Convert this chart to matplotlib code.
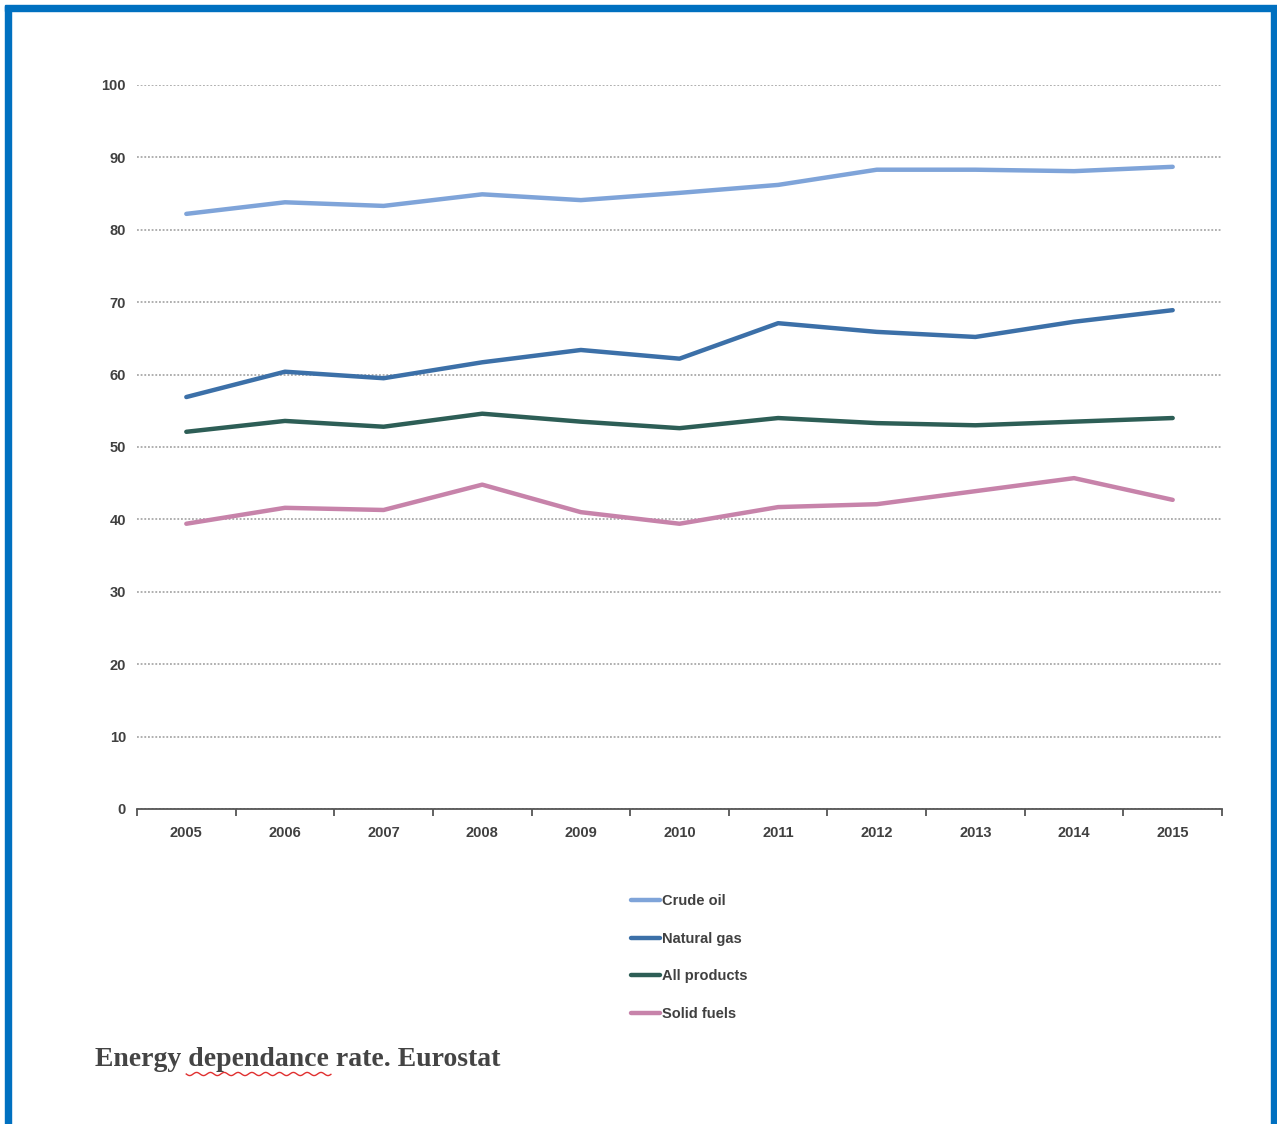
import matplotlib.pyplot as plt
import numpy as np
from matplotlib.patches import Rectangle

years = ['2005', '2006', '2007', '2008', '2009', '2010', '2011', '2012', '2013', '2014', '2015']
crude_oil = [82.2, 83.8, 83.3, 84.9, 84.1, 85.1, 86.2, 88.3, 88.3, 88.1, 88.7]
natural_gas = [56.9, 60.4, 59.5, 61.7, 63.4, 62.2, 67.1, 65.9, 65.2, 67.3, 68.9]
all_products = [52.1, 53.6, 52.8, 54.6, 53.5, 52.6, 54.0, 53.3, 53.0, 53.5, 54.0]
solid_fuels = [39.4, 41.6, 41.3, 44.8, 41.0, 39.4, 41.7, 42.1, 43.9, 45.7, 42.7]

series = [
    ('Crude oil', crude_oil, '#7fa4d9'),
    ('Natural gas', natural_gas, '#3c70a8'),
    ('All products', all_products, '#2d5e56'),
    ('Solid fuels', solid_fuels, '#c783aa'),
]

tick_font = ['Liberation Sans Narrow', 'Liberation Sans', 'DejaVu Sans']
text_col = '#404040'

W, H = 1277, 1124
fig = plt.figure(figsize=(W / 100, H / 100), dpi=100)
ax = fig.add_axes([137 / W, 1 - 809 / H, (1222 - 137) / W, (809 - 85) / H])

x = np.arange(len(years))
for name, vals, col in series:
    ax.plot(x, vals, color=col, lw=3.2, label=name, solid_capstyle='round')

ax.set_xlim(-0.5, len(years) - 0.5)
ax.set_ylim(0, 100)
ax.set_yticks(range(0, 101, 10))
ax.yaxis.grid(True, color='#9a9a9a', linestyle=(0, (1.2, 1.2)), lw=1.1)
ax.set_axisbelow(True)

for s in ['top', 'right', 'left']:
    ax.spines[s].set_visible(False)
ax.spines['bottom'].set_color('#555555')
ax.spines['bottom'].set_linewidth(1.3)

ax.set_xticks(x)
ax.set_xticklabels(years)
ax.set_xticks(np.arange(-0.5, len(years)), minor=True)
ax.tick_params(axis='x', which='major', length=0, pad=12)
ax.tick_params(axis='x', which='minor', length=5, color='#555555', width=1.3, direction='out')
ax.tick_params(axis='y', length=0, pad=8)
for lbl in ax.get_xticklabels() + ax.get_yticklabels():
    lbl.set_fontfamily(tick_font)
    lbl.set_fontsize(10.5)
    lbl.set_fontweight('bold')
    lbl.set_color(text_col)

leg = fig.legend(loc='upper left', bbox_to_anchor=(618 / W, 1 - 881 / H),
                 frameon=False, handlelength=2.0, handletextpad=0.15,
                 labelspacing=1.62, prop={'family': tick_font, 'size': 10.5, 'weight': 'bold'})
for t in leg.get_texts():
    t.set_color(text_col)

caption = 'Energy dependance rate. Eurostat'
cap_kw = dict(fontsize=20, fontweight='bold', family=['Liberation Serif', 'DejaVu Serif'],
              color='#444444', va='center', ha='left')
cap = fig.text(95 / W, 1 - 1060 / H, caption, **cap_kw)

# red squiggle under "dependance", placed from measured text widths
renderer = fig.canvas.get_renderer()


def text_width(s):
    t = fig.text(0, 0, s, **cap_kw)
    w = t.get_window_extent(renderer).width
    t.remove()
    return w


x0 = 95 + text_width('Energy ') - 2
x1 = 95 + text_width('Energy dependance') + 2
sx = np.linspace(x0, x1, 120)
sy = 1074 + 1.6 * np.sin((sx - x0) / 2.2)
fig.add_artist(plt.Line2D(sx / W, 1 - sy / H, color='#e03030', lw=1.0))

# blue frame
frame_col = '#0070c0'
fig.add_artist(Rectangle((5 / W, 1 - 11 / H), (1277 - 5) / W, 6 / H,
                         transform=fig.transFigure, color=frame_col))
fig.add_artist(Rectangle((5 / W, 0), 6 / W, 1 - 6 / H,
                         transform=fig.transFigure, color=frame_col))
fig.add_artist(Rectangle((1271 / W, 0), 6 / W, 1 - 6 / H,
                         transform=fig.transFigure, color=frame_col))

fig.savefig('out.png', dpi=100)
